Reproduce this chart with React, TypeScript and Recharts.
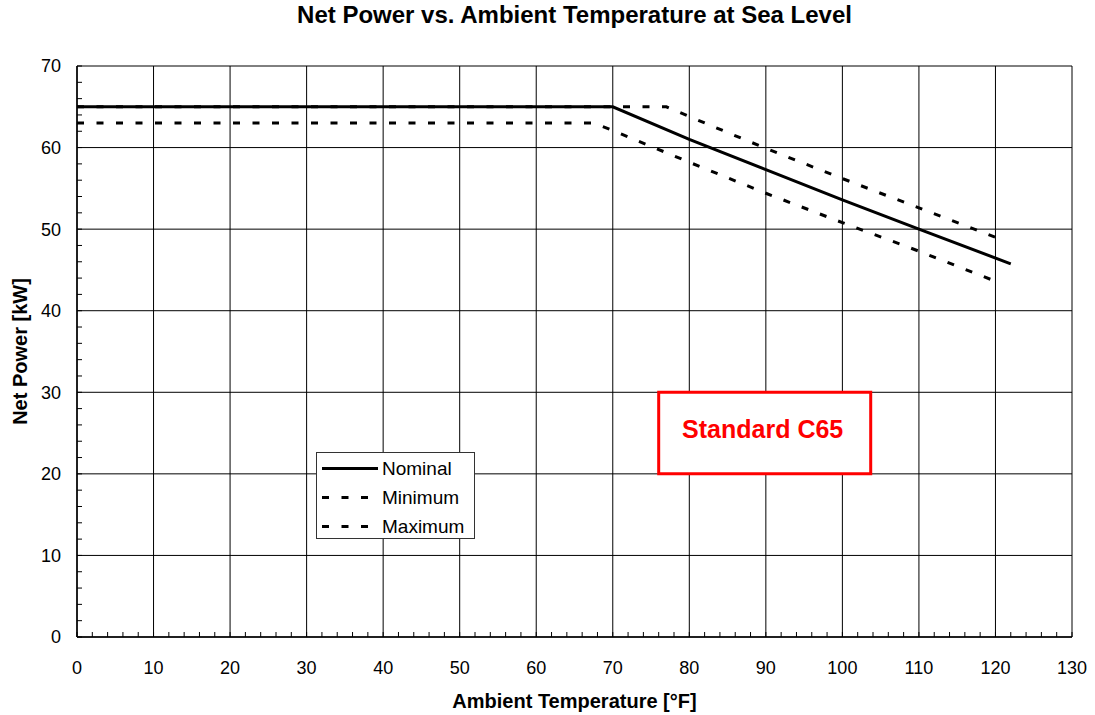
import { LineChart, Line, XAxis, YAxis, CartesianGrid, ReferenceArea, Legend } from 'recharts';

const FONT = '"Liberation Sans", Arial, Helvetica, sans-serif';

// Nominal curve
const nominalTemp = [0, 70, 80, 90, 100, 110, 122];
const nominalPower = [65, 65, 61.0, 57.3, 53.6, 50.0, 45.75];
// Minimum curve
const minimumTemp = [0, 67.5, 70, 80, 90, 100, 110, 120.3];
const minimumPower = [63, 63, 62.1, 58.2, 54.4, 50.8, 47.3, 43.5];
// Maximum curve
const maximumTemp = [0, 77, 80, 90, 100, 110, 121.1];
const maximumPower = [65, 65, 63.8, 59.9, 56.2, 52.6, 48.6];

const xTickLabels = [0, 10, 20, 30, 40, 50, 60, 70, 80, 90, 100, 110, 120, 130];
const yTickLabels = [0, 10, 20, 30, 40, 50, 60, 70];

// "Standard C65" box, in chart units
const boxTemp = [76, 103.7];
const boxPower = [20, 30];

const toPoints = (temps: number[], power: number[]) =>
  temps.map((t, i) => ({ temp: t, power: power[i] }));

const series = [
  { name: 'Nominal', data: toPoints(nominalTemp, nominalPower), dash: undefined },
  { name: 'Minimum', data: toPoints(minimumTemp, minimumPower), dash: '7 12.5' },
  { name: 'Maximum', data: toPoints(maximumTemp, maximumPower), dash: '7 12.5' },
];

// minor tick marks every 2 units, drawn inside the plot
const xMinor = Array.from({ length: 66 }, (_, i) => i * 2);
const yMinor = Array.from({ length: 36 }, (_, i) => i * 2);

const X_MARGIN = 24;
const Y_MARGIN = 16;

const XTick = ({ x, y, payload }: any) => {
  const axisY = y - X_MARGIN;
  const v = payload.value;
  return (
    <g>
      <line x1={x} x2={x} y1={axisY} y2={axisY - 5} stroke="#000" strokeWidth={1} />
      {xTickLabels.includes(v) && (
        <text x={x} y={y} dy="0.71em" textAnchor="middle" fontSize={18} fontFamily={FONT} fill="#000">
          {v}
        </text>
      )}
    </g>
  );
};

const YTick = ({ x, y, payload }: any) => {
  const axisX = x + Y_MARGIN;
  const v = payload.value;
  return (
    <g>
      <line x1={axisX} x2={axisX + 5} y1={y} y2={y} stroke="#000" strokeWidth={1} />
      {yTickLabels.includes(v) && (
        <text x={x} y={y} dy="0.355em" textAnchor="end" fontSize={18} fontFamily={FONT} fill="#000">
          {v}
        </text>
      )}
    </g>
  );
};

const renderLegend = () => (
  <div
    style={{
      width: 159,
      height: 87,
      boxSizing: 'border-box',
      border: '1px solid #333',
      background: '#fff',
      paddingTop: 1,
      fontFamily: FONT,
      fontSize: 19,
    }}
  >
    {series.map((s) => (
      <div key={s.name} style={{ height: 29, display: 'flex', alignItems: 'center' }}>
        <svg width={65} height={29} style={{ display: 'block' }}>
          <line x1={5} x2={61} y1={14.5} y2={14.5} stroke="#000" strokeWidth={3} strokeDasharray={s.dash} />
        </svg>
        <span style={{ color: '#000' }}>{s.name}</span>
      </div>
    ))}
  </div>
);

export default function App() {
  return (
    <div style={{ position: 'absolute', left: 0, top: 0, width: 1095, height: 715, background: '#fff', fontFamily: FONT }}>
      <div
        style={{
          position: 'absolute',
          left: 77,
          width: 995,
          top: 3,
          textAlign: 'center',
          fontSize: 24,
          lineHeight: '24px',
          fontWeight: 'bold',
          color: '#000',
        }}
      >
        Net Power vs. Ambient Temperature at Sea Level
      </div>
      <LineChart width={1095} height={715} margin={{ top: 66, right: 23, left: 0, bottom: 0 }}>
        <CartesianGrid
          stroke="#000"
          strokeWidth={1}
          horizontalValues={yTickLabels}
          verticalValues={xTickLabels}
        />
        <XAxis
          type="number"
          dataKey="temp"
          domain={[0, 130]}
          ticks={xMinor}
          interval={0}
          height={78}
          tickSize={0}
          tickMargin={X_MARGIN}
          tickLine={false}
          axisLine={{ stroke: '#000', strokeWidth: 1.5 }}
          tick={<XTick />}
          label={({ viewBox }: any) => (
            <text
              x={viewBox.x + viewBox.width / 2}
              y={707.5}
              textAnchor="middle"
              fontSize={20}
              fontWeight="bold"
              fontFamily={FONT}
              fill="#000"
            >
              Ambient Temperature [°F]
            </text>
          )}
        />
        <YAxis
          type="number"
          domain={[0, 70]}
          ticks={yMinor}
          interval={0}
          width={77}
          tickSize={0}
          tickMargin={Y_MARGIN}
          tickLine={false}
          axisLine={{ stroke: '#000', strokeWidth: 1.5 }}
          tick={<YTick />}
          label={({ viewBox }: any) => {
            const cy = viewBox.y + viewBox.height / 2;
            return (
              <text
                x={26.5}
                y={cy}
                transform={`rotate(-90, 26.5, ${cy})`}
                textAnchor="middle"
                fontSize={20}
                fontWeight="bold"
                fontFamily={FONT}
                fill="#000"
              >
                Net Power [kW]
              </text>
            );
          }}
        />
        <ReferenceArea
          x1={boxTemp[0]}
          x2={boxTemp[1]}
          y1={boxPower[0]}
          y2={boxPower[1]}
          fill="#fff"
          fillOpacity={1}
          stroke="#ff0000"
          strokeWidth={3}
          label={({ viewBox }: any) => (
            <text
              x={viewBox.x + viewBox.width / 2 - 2}
              y={viewBox.y + viewBox.height / 2 + 5}
              textAnchor="middle"
              fontSize={25}
              fontWeight="bold"
              fontFamily={FONT}
              fill="#ff0000"
            >
              Standard C65
            </text>
          )}
        />
        {series.map((s) => (
          <Line
            key={s.name}
            data={s.data}
            dataKey="power"
            name={s.name}
            type="linear"
            stroke="#000"
            strokeWidth={3}
            strokeDasharray={s.dash}
            dot={false}
            activeDot={false}
            isAnimationActive={false}
          />
        ))}
        <Legend
          layout="vertical"
          align="center"
          verticalAlign="middle"
          content={renderLegend}
          wrapperStyle={{ left: 316, top: 452, width: 'auto' }}
        />
      </LineChart>
    </div>
  );
}
